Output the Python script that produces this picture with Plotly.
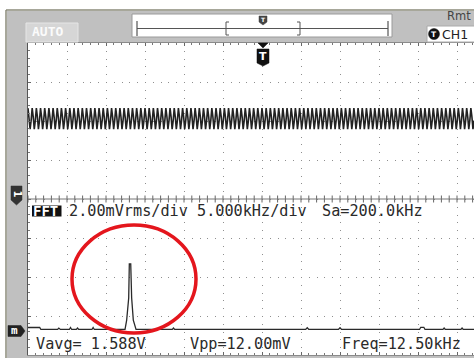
import plotly.graph_objects as go

# ---------------- screen geometry (pixels) ----------------
W, H = 474, 358
GX0, GY0, DIV = 28, 43, 39          # grid left / top edge, pixels per division
N_YDIV = 8
GRID_W = W - GX0
GRID_H = N_YDIV * DIV
X_SPAN = GRID_W / DIV               # visible horizontal divisions

# ---------------- data ----------------
# CH1 time-domain trace: centre level (div), one displayed cycle (div), number of cycles on screen
ch1_center_div = 6.06
ch1_cycle_div = [0.27, 0.05, -0.27, -0.05]
ch1_cycles = 107

# FFT trace (frequency in kHz, level in mVrms, 2.00 mVrms/div, 5.000 kHz/div)
fft_khz = [0.0, 1.5, 1.65, 3.8, 3.95, 4.15, 5.3, 5.45, 5.6, 6.2, 6.35, 6.5,
           8.2, 8.35, 8.5, 12.44, 12.65, 12.91, 12.99, 13.17, 13.29, 13.5, 13.85,
           18.5, 18.65, 18.8, 35.6, 35.8, 36.0, 39.8, 40.0, 40.2,
           50.2, 50.35, 50.75, 50.9, 53.2, 53.35, 53.5, 55.5, 55.65, 55.8, 57.2]
fft_mvrms = [1.41, 1.41, 1.31, 1.31, 1.38, 1.31, 1.31, 1.41, 1.31, 1.31, 1.38, 1.31,
             1.31, 1.41, 1.31, 1.31, 1.79, 2.92, 4.67, 4.67, 2.92, 1.79, 1.31,
             1.31, 1.38, 1.31, 1.31, 1.40, 1.31, 1.31, 1.40, 1.31,
             1.31, 1.42, 1.42, 1.31, 1.31, 1.38, 1.31, 1.31, 1.38, 1.31, 1.31]
FFT_MV_PER_DIV = 2.0
FFT_KHZ_PER_DIV = 5.0

fft_label = "FFT"
readout_top = ["2.00mVrms/div", "5.000kHz/div", "Sa=200.0kHz"]
readout_bottom = ["Vavg= 1.588V", "Vpp=12.00mV", "Freq=12.50kHz"]

# ---------------- helpers ----------------
def P(xp, yp):
    """pixel -> paper coordinates"""
    return (xp - GX0) / GRID_W, (GY0 + GRID_H - yp) / GRID_H

def rect(x0, y0, x1, y1, fill, line=None, lw=0, layer="above"):
    a, b = P(x0, y1)
    c, d = P(x1, y0)
    return dict(type="rect", xref="paper", yref="paper", x0=a, y0=b, x1=c, y1=d,
                fillcolor=fill, line=dict(color=line or fill, width=lw), layer=layer)

def seg(x0, y0, x1, y1, color, lw=1):
    a, b = P(x0, y0)
    c, d = P(x1, y1)
    return dict(type="line", xref="paper", yref="paper", x0=a, y0=b, x1=c, y1=d,
                line=dict(color=color, width=lw), layer="above")

def poly(pts, fill):
    s = ""
    for i, (x, y) in enumerate(pts):
        px, py = P(x, y)
        s += ("M" if i == 0 else "L") + f"{px:.5f},{py:.5f} "
    return dict(type="path", xref="paper", yref="paper", path=s + "Z",
                fillcolor=fill, line=dict(color=fill, width=0.5), layer="above")

def txt(x, y, s, size, color, family="DejaVu Sans Mono", xanchor="left", angle=0, bold=False):
    px, py = P(x, y)
    return dict(x=px, y=py, xref="paper", yref="paper", text=(f"<b>{s}</b>" if bold else s),
                showarrow=False, xanchor=xanchor, yanchor="middle", textangle=angle,
                borderpad=0, font=dict(family=family, size=size, color=color))

# ---------------- traces ----------------
n = ch1_cycles * len(ch1_cycle_div)
ch1_x = [i * X_SPAN / (n - 1) for i in range(n)]
ch1_y = [ch1_center_div + ch1_cycle_div[i % len(ch1_cycle_div)] for i in range(n)]

fft_x = [f / FFT_KHZ_PER_DIV for f in fft_khz]
fft_y = [v / FFT_MV_PER_DIV for v in fft_mvrms]

fig = go.Figure()
fig.add_trace(go.Scatter(x=ch1_x, y=ch1_y, mode="lines",
                         line=dict(color="#222222", width=1.6), hoverinfo="skip"))
fig.add_trace(go.Scatter(x=fft_x, y=fft_y, mode="lines",
                         line=dict(color="#2a2a2a", width=1.3), hoverinfo="skip"))

# centre graticule tick marks
tick_x = [i * 0.2 for i in range(int(X_SPAN / 0.2) + 1)]
fig.add_trace(go.Scatter(x=tick_x, y=[N_YDIV / 2] * len(tick_x), mode="markers",
                         marker=dict(symbol="line-ns", size=5,
                                     line=dict(color="#666", width=1)),
                         hoverinfo="skip"))

# ---------------- decoration ----------------
shapes = []
# outer frame / gray bezel
shapes.append(rect(7, 11, W + 2, GY0 - 0.5, "#c0c0c0"))
shapes.append(rect(7, 11, GX0 - 1, H + 2, "#c0c0c0"))
shapes.append(rect(7, GY0 + GRID_H + 0.5, W + 2, H + 2, "#c0c0c0"))
shapes.append(seg(6, 10, W + 2, 10, "#8a8a78", 1.5))
shapes.append(seg(6, 10, 6, H + 2, "#8a8a78", 1.5))
# centre horizontal graticule line
shapes.append(dict(type="line", xref="x", yref="y", x0=0, x1=X_SPAN, y0=N_YDIV / 2, y1=N_YDIV / 2,
                   line=dict(color="#777", width=1), layer="above"))
# AUTO tab
shapes.append(rect(26, 23, 78, GY0 - 1, "#d6d6d6", "#e6e6e6", 1))
# memory bar
shapes.append(rect(132, 14, 392, 37, "#ffffff", "#9a9a9a", 1))
shapes.append(seg(137, 28.5, 388, 28.5, "#555", 1))
shapes.append(seg(137, 21, 137, 36, "#555", 1.2))
shapes.append(seg(388, 21, 388, 36, "#555", 1.2))
shapes.append(seg(226, 22, 226, 35, "#555", 1))
shapes.append(seg(226, 22, 229, 22, "#555", 1))
shapes.append(seg(226, 35, 229, 35, "#555", 1))
shapes.append(seg(300, 22, 300, 35, "#555", 1))
shapes.append(seg(297, 22, 300, 22, "#555", 1))
shapes.append(seg(297, 35, 300, 35, "#555", 1))
shapes.append(poly([(259, 16), (267, 16), (267, 22), (263, 25), (259, 22)], "#444"))
# CH1 tab
shapes.append(rect(427, 26, W + 2, GY0 - 1, "#ffffff", "#aaaaaa", 1))
cx0, cy0 = P(428.5, 39.5)
cx1, cy1 = P(439.5, 28.5)
shapes.append(dict(type="circle", xref="paper", yref="paper", x0=cx0, y0=cy0, x1=cx1, y1=cy1,
                   fillcolor="#111", line=dict(color="#111", width=0.5), layer="above"))
# trigger marker at top of grid
shapes.append(poly([(258, GY0), (268, GY0), (263, 48)], "#111"))
shapes.append(poly([(257, 49), (269, 49), (269, 63), (263, 66), (257, 63)], "#111"))
# channel / math markers on the left bezel
shapes.append(poly([(11, 186), (22, 186), (22, 200), (16.5, 205), (11, 200)], "#333"))
shapes.append(poly([(8, 325.5), (21, 325.5), (25, 331), (21, 336.5), (8, 336.5)], "#222"))
# FFT label box
shapes.append(rect(32, 205.5, 61.5, 216.5, "#111"))
# red highlight ellipse around the FFT peak
e0 = P(72, 333)
e1 = P(196, 225)
shapes.append(dict(type="circle", xref="paper", yref="paper", x0=e0[0], y0=e0[1], x1=e1[0], y1=e1[1],
                   line=dict(color="#e4161d", width=3.5), layer="above"))

annotations = [
    txt(31, 32, "AUTO", 13, "#fbfbfb", bold=True),
    txt(446, 16, "Rmt", 11.5, "#444", family="DejaVu Sans"),
    txt(441, 34, "CH1", 12.5, "#222", family="DejaVu Sans"),
    txt(434, 34, "T", 7.5, "#fff", family="DejaVu Sans", xanchor="center", bold=True),
    txt(263, 19.5, "T", 6, "#fff", family="DejaVu Sans", xanchor="center", bold=True),
    txt(263, 57, "T", 11, "#fff", family="DejaVu Sans", xanchor="center", bold=True),
    txt(16.5, 194, "1", 10, "#fff", family="DejaVu Sans", xanchor="center", angle=90, bold=True),
    txt(14.5, 330.5, "m", 11, "#fff", family="DejaVu Sans Mono", xanchor="center", bold=True),
    txt(32, 211, fft_label, 14, "#fff", bold=True),
    txt(68, 211, readout_top[0], 15.2, "#2a2a2a"),
    txt(196, 211, readout_top[1], 15.2, "#2a2a2a"),
    txt(321, 211, readout_top[2], 15.2, "#2a2a2a"),
    txt(35, 344, readout_bottom[0], 15.2, "#2a2a2a"),
    txt(189, 344, readout_bottom[1], 15.2, "#2a2a2a"),
    txt(341, 344, readout_bottom[2], 15.2, "#2a2a2a"),
]

axis_common = dict(showticklabels=False, zeroline=False, fixedrange=True,
                   showgrid=True, gridcolor="#8f8f8f", gridwidth=1, griddash="1px,6.8px",
                   dtick=1, tick0=0, ticks="inside", ticklen=3, tickcolor="#666",
                   showline=True, linecolor="#555", linewidth=1,
                   minor=dict(dtick=0.2, tick0=0, ticks="inside", ticklen=2,
                              tickcolor="#777", showgrid=False))

fig.update_layout(
    width=W, height=H, autosize=False,
    margin=dict(l=GX0, r=0, t=GY0, b=H - GY0 - GRID_H),
    paper_bgcolor="#ffffff", plot_bgcolor="#ffffff",
    showlegend=False,
    xaxis=dict(range=[0, X_SPAN], mirror="ticks", **axis_common),
    yaxis=dict(range=[0, N_YDIV], mirror=False, **axis_common),
    shapes=shapes, annotations=annotations,
)

fig.write_html("out.html", config=dict(displayModeBar=False),
               post_script="document.body.style.margin='0';document.body.style.overflow='hidden';")
